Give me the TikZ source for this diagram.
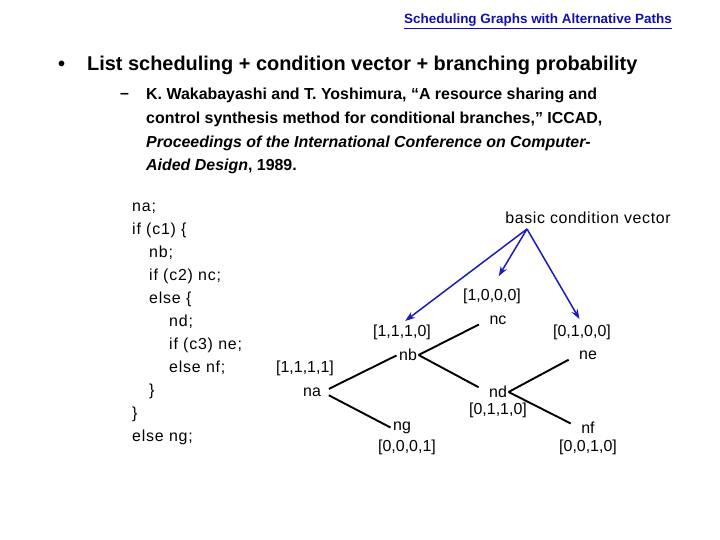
\documentclass[tikz,border=0pt]{standalone}
\usepackage{fontspec}
\setmainfont{Liberation Sans}
\usetikzlibrary{arrows.meta,calc,positioning}
\definecolor{TitleBlue}{HTML}{1010B0}
\definecolor{ArrowBlue}{HTML}{1C1CB8}
\definecolor{Ink}{HTML}{000000}
\tikzset{
  treelabel/.style={inner sep=1.5bp, font=\fontsize{16}{19}\selectfont, text=Ink},
  vec/.style={inner sep=1bp, font=\fontsize{16}{19}\selectfont, text=Ink},
  branch/.style={line width=1.9bp, draw=Ink, shorten >=10bp},
  cvarrow/.style={-{Stealth[length=10bp,width=7bp]}, line width=1.5bp, draw=ArrowBlue}
}
\begin{document}
\begin{tikzpicture}[x=1bp,y=-1bp]
  \useasboundingbox (0,0) rectangle (720,540);
  % heading and text
  \node[anchor=base west,inner sep=0pt,text=TitleBlue,font=\fontsize{13.5}{16}\selectfont\bfseries]
    (title) at (404,24) {\underline{Scheduling Graphs with Alternative Paths}};
  \node[anchor=base west,inner sep=0pt,font=\fontsize{20}{24}\selectfont\bfseries]
    (bullet) at (58,71) {\textbullet\hspace{22bp}List scheduling + condition vector + branching probability};
  \node[anchor=base west,inner sep=0pt,font=\fontsize{16}{20}\selectfont\bfseries]
    (dash) at (120,99) {--};
  \node[anchor=base west,inner sep=0pt,align=left,font=\fontsize{16}{24}\selectfont\bfseries]
    (ref) at (146,171) {K. Wakabayashi and T. Yoshimura, ``A resource sharing and\\
    control synthesis method for conditional branches,'' ICCAD,\\
    \textit{Proceedings of the International Conference on Computer-}\\
    \textit{Aided Design}, 1989.};
  % source code
  \node[anchor=base west,inner sep=0pt,align=left,font=\fontsize{16}{23}\selectfont\addfontfeature{LetterSpace=5}]
    (code) at (132,441) {na;\\
    if (c1) \{\\
    \hspace*{17bp}nb;\\
    \hspace*{17bp}if (c2) nc;\\
    \hspace*{17bp}else \{\\
    \hspace*{37bp}nd;\\
    \hspace*{37bp}if (c3) ne;\\
    \hspace*{37bp}else nf;\\
    \hspace*{17bp}\}\\
    \}\\
    else ng;};
  % tree of nodes
  \node[treelabel,font=\fontsize{16}{19}\selectfont\addfontfeature{LetterSpace=4}] (bcv) at (588,218) {basic condition vector};
  \coordinate (bcvsrc) at (527,229);
  \node[vec] (v1000) at (492,296) {[1,0,0,0]};
  \node[treelabel] (nc) at (498,320) {nc};
  \node[vec] (v1110) at (402,332) {[1,1,1,0]};
  \node[treelabel] (nb) at (408,355) {nb};
  \node[vec] (v0100) at (582,332) {[0,1,0,0]};
  \node[treelabel] (ne) at (588,355) {ne};
  \node[vec] (v1111) at (305,368) {[1,1,1,1]};
  \node[treelabel] (na) at (312,392) {na};
  \node[treelabel] (nd) at (498,392) {nd};
  \node[vec] (v0110) at (498,410) {[0,1,1,0]};
  \node[treelabel] (ng) at (402,428) {ng};
  \node[vec] (v0001) at (407,447) {[0,0,0,1]};
  \node[treelabel] (nf) at (588,428) {nf};
  \node[vec] (v0010) at (588,447) {[0,0,1,0]};
  \draw[branch,shorten <=7bp,shorten >=1bp] (na.east) -- (nb.west);
  \draw[branch,shorten <=7bp,shorten >=1bp] (na.east) -- (ng.west);
  \draw[branch] (nb.east) -- (nc.west);
  \draw[branch] (nb.east) -- (nd.west);
  \draw[branch] (nd.east) -- (ne.west);
  \draw[branch] (nd.east) -- (nf.west);
  \draw[cvarrow,shorten >=4bp] (bcvsrc) -- (v1110.north);
  \draw[cvarrow,shorten >=13bp] (bcvsrc) -- (v1000.north);
  \draw[cvarrow,shorten >=5bp] (bcvsrc) -- (v0100.north);
\end{tikzpicture}
\end{document}
